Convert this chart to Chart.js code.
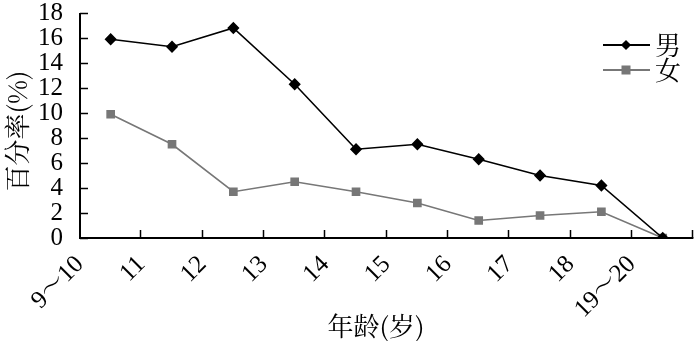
<!DOCTYPE html>
<html>
<head>
<meta charset="utf-8">
<script src="https://cdn.jsdelivr.net/npm/chart.js@4"></script>
<style>
  html, body { margin: 0; padding: 0; background: #fff; }
  #wrap { width: 700px; height: 341px; position: relative; }
</style>
</head>
<body>
<div id="wrap"><canvas id="chart" width="700" height="341"></canvas></div>
<script>
// ── Data ─────────────────────────────────
const ageLabels = ["9～10", "11", "12", "13", "14", "15", "16", "17", "18", "19～20"];
const maleRate   = [15.9, 15.3, 16.8, 12.3, 7.1, 7.5, 6.3, 5.0, 4.2, 0];
const femaleRate = [9.9, 7.5, 3.7, 4.5, 3.7, 2.8, 1.4, 1.8, 2.1, 0];
const yTicks     = [0, 2, 4, 6, 8, 10, 12, 14, 16, 18];

const SERIF = "'Liberation Serif', 'Noto Serif CJK SC', serif";
const CJK   = "'Noto Serif CJK SC', 'Liberation Serif', serif";

Chart.defaults.font.family = SERIF;
Chart.defaults.color = "#000";

// points sit in the middle of each age slot, labels at slot edges
const toPoints = arr => arr.map((v, i) => ({ x: i + 0.5, y: v }));

// ── Inward tick marks, axis titles, legend ──
const decor = {
  id: "decor",
  afterDraw(chart) {
    const { ctx, chartArea: a, scales: { x, y } } = chart;
    ctx.save();
    ctx.strokeStyle = "#000";
    ctx.lineWidth = 2;
    // axes
    ctx.beginPath();
    ctx.moveTo(a.left, a.top);
    ctx.lineTo(a.left, a.bottom);
    ctx.lineTo(a.right, a.bottom);
    ctx.stroke();
    // y ticks (pointing right)
    ctx.lineWidth = 1.5;
    yTicks.forEach(t => {
      const py = Math.round(y.getPixelForValue(t)) + 0.5;
      ctx.beginPath();
      ctx.moveTo(a.left, py);
      ctx.lineTo(a.left + 8, py);
      ctx.stroke();
    });
    // x ticks (pointing up)
    for (let i = 1; i <= ageLabels.length; i++) {
      const px = Math.round(x.getPixelForValue(i)) - 0.5;
      ctx.beginPath();
      ctx.moveTo(px, a.bottom);
      ctx.lineTo(px, a.bottom - 8);
      ctx.stroke();
    }
    // axis titles
    ctx.fillStyle = "#000";
    ctx.font = "26px " + CJK;
    ctx.textAlign = "center";
    ctx.textBaseline = "middle";
    ctx.fillText("年龄(岁)", 376, 326);
    ctx.save();
    ctx.translate(17, 131);
    ctx.rotate(-Math.PI / 2);
    ctx.fillText("百分率(%)", 0, 0);
    ctx.restore();
    // legend
    chart.data.datasets.forEach((ds, i) => {
      const ly = 45 + i * 25;
      ctx.strokeStyle = ds.borderColor;
      ctx.lineWidth = 2;
      ctx.beginPath();
      ctx.moveTo(603, ly);
      ctx.lineTo(650, ly);
      ctx.stroke();
      ctx.fillStyle = ds.pointBackgroundColor;
      ctx.save();
      ctx.translate(626, ly);
      if (ds.pointStyle === "rectRot") {
        ctx.rotate(Math.PI / 4);
        ctx.fillRect(-3.6, -3.6, 7.2, 7.2);
      } else {
        ctx.fillRect(-4.5, -4.5, 9, 9);
      }
      ctx.restore();
      ctx.fillStyle = "#000";
      ctx.font = "26px " + CJK;
      ctx.textAlign = "left";
      ctx.fillText(ds.label, 655, ly);
    });
    ctx.restore();
  }
};

new Chart(document.getElementById("chart"), {
  type: "line",
  data: {
    datasets: [
      {
        label: "男",
        data: toPoints(maleRate),
        borderColor: "#000000",
        backgroundColor: "#000000",
        pointBackgroundColor: "#000000",
        pointBorderColor: "#000000",
        pointStyle: "rectRot",
        pointRadius: 5,
        borderWidth: 1.6,
        tension: 0
      },
      {
        label: "女",
        data: toPoints(femaleRate),
        borderColor: "#777777",
        backgroundColor: "#777777",
        pointBackgroundColor: "#777777",
        pointBorderColor: "#777777",
        pointStyle: "rect",
        pointRadius: 5,
        borderWidth: 1.6,
        tension: 0
      }
    ]
  },
  options: {
    responsive: false,
    animation: false,
    layout: { padding: 0 },
    plugins: { legend: { display: false }, tooltip: { enabled: false } },
    scales: {
      x: {
        type: "linear",
        min: 0,
        max: ageLabels.length,
        border: { display: false },
        grid: { display: false },
        afterFit: s => {
          s.height = 103;
          s.paddingLeft = 0;
          s.paddingRight = 1;
        },
        afterBuildTicks: s => {
          s.ticks = ageLabels.map((_, i) => ({ value: i }));
        },
        ticks: {
          color: "#000",
          padding: 4,
          autoSkip: false,
          minRotation: 45,
          maxRotation: 45,
          font: { family: SERIF, size: 25 },
          callback: v => ageLabels[v] ?? ""
        }
      },
      y: {
        min: 0,
        max: 18,
        border: { display: false },
        grid: { display: false },
        afterFit: s => {
          s.width = 80;
          s.paddingTop = 13;
          s.paddingBottom = 0;
        },
        afterBuildTicks: s => {
          s.ticks = yTicks.map(v => ({ value: v }));
        },
        ticks: {
          color: "#000",
          padding: 9,
          autoSkip: false,
          font: { family: SERIF, size: 25 }
        }
      }
    }
  },
  plugins: [decor]
});
</script>
</body>
</html>
